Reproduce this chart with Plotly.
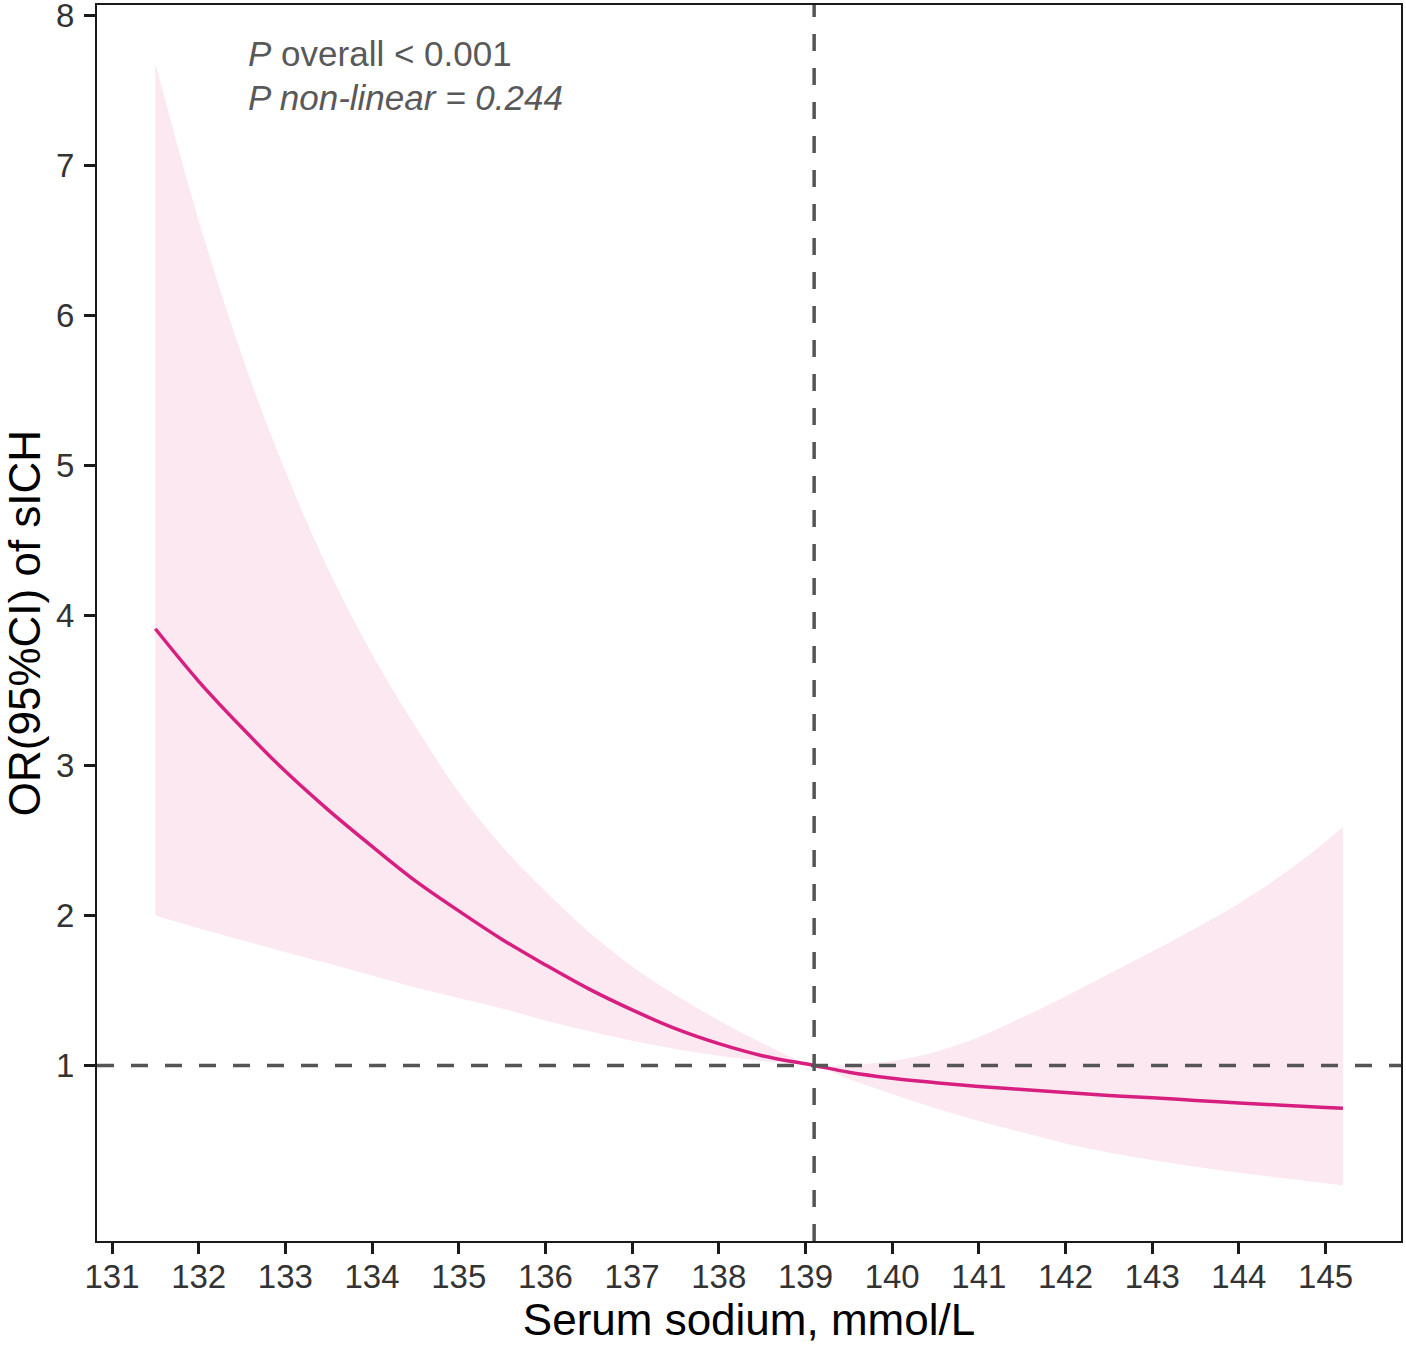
import plotly.graph_objects as go

# Serum sodium (mmol/L)
sodium = [131.5, 132.0, 132.5, 133.0, 133.5, 134.0, 134.5, 135.0, 135.5, 136.0,
          136.5, 137.0, 137.5, 138.0, 138.5, 139.1, 139.5, 140.0, 140.5, 141.0,
          141.5, 142.0, 142.5, 143.0, 143.5, 144.0, 144.5, 145.0, 145.2]
# Odds ratio estimate
odds_ratio = [3.91, 3.56, 3.25, 2.96, 2.70, 2.46, 2.23, 2.03, 1.84, 1.67,
              1.51, 1.37, 1.245, 1.145, 1.065, 1.00, 0.955, 0.915, 0.885, 0.86,
              0.84, 0.82, 0.80, 0.785, 0.767, 0.75, 0.735, 0.72, 0.715]
# 95% CI upper bound
ci_upper = [7.68, 6.63, 5.73, 4.96, 4.30, 3.74, 3.26, 2.82, 2.46, 2.16,
            1.89, 1.66, 1.47, 1.30, 1.15, 1.00, 1.005, 1.03, 1.09, 1.19,
            1.32, 1.46, 1.61, 1.76, 1.915, 2.08, 2.27, 2.49, 2.59]
# 95% CI lower bound
ci_lower = [2.00, 1.915, 1.835, 1.755, 1.68, 1.60, 1.52, 1.45, 1.38, 1.30,
            1.23, 1.165, 1.11, 1.065, 1.03, 1.00, 0.91, 0.81, 0.715, 0.63,
            0.555, 0.48, 0.42, 0.37, 0.325, 0.285, 0.25, 0.215, 0.20]

ref_sodium = 139.1
ref_or = 1
x_ticks = list(range(131, 146))
y_ticks = list(range(1, 9))

FONT = "Liberation Sans, Arial, sans-serif"

fig = go.Figure()
fig.add_trace(go.Scatter(x=sodium, y=ci_upper, mode="lines", line=dict(width=0, shape="spline"),
                         showlegend=False, hoverinfo="skip"))
fig.add_trace(go.Scatter(x=sodium, y=ci_lower, mode="lines", line=dict(width=0, shape="spline"),
                         fill="tonexty", fillcolor="#FBE8F1", showlegend=False, hoverinfo="skip"))
fig.add_trace(go.Scatter(x=sodium, y=odds_ratio, mode="lines",
                         line=dict(color="#D81F80", width=3.5, shape="spline"), showlegend=False))

dash_style = dict(color="#555555", width=3.5, dash="17px,17px")
fig.add_shape(type="line", xref="paper", x0=0, x1=1, yref="y", y0=ref_or, y1=ref_or,
              line=dash_style, layer="above")
fig.add_shape(type="line", xref="x", x0=ref_sodium, x1=ref_sodium, yref="paper", y0=0, y1=1,
              line=dash_style, layer="above")

fig.add_annotation(x=132.55, y=7.747, xref="x", yref="y", xanchor="left", yanchor="middle",
                   text="<i>P</i> overall &lt; 0.001", showarrow=False,
                   font=dict(family=FONT, size=35, color="#595959"))
fig.add_annotation(x=132.55, y=7.453, xref="x", yref="y", xanchor="left", yanchor="middle",
                   text="<i>P non-linear = 0.244</i>", showarrow=False,
                   font=dict(family=FONT, size=35, color="#595959"))

axis_common = dict(showgrid=False, zeroline=False, showline=True, mirror=True,
                   linecolor="#1a1a1a", linewidth=2, ticks="outside", ticklen=11,
                   tickwidth=3, tickcolor="#1a1a1a", ticklabeloverflow="allow",
                   tickfont=dict(family=FONT, size=33, color="#333333"))

fig.update_xaxes(range=[130.827, 145.87], tickvals=x_ticks, ticktext=[str(v) for v in x_ticks],
                 ticklabelstandoff=-6,
                 title=dict(text="Serum sodium, mmol/L", font=dict(family=FONT, size=44, color="#000000"),
                            standoff=9),
                 **axis_common)
fig.update_yaxes(range=[-0.17, 8.067], tickvals=y_ticks, ticktext=[str(v) for v in y_ticks],
                 ticklabelstandoff=3,
                 title=dict(text="OR(95%CI) of sICH", font=dict(family=FONT, size=44, color="#000000"),
                            standoff=16),
                 **axis_common)

fig.update_layout(width=1406, height=1347, plot_bgcolor="white", paper_bgcolor="white",
                  margin=dict(l=97, r=5, t=5, b=106, autoexpand=False))

fig.write_html("out.html", config={"displayModeBar": False},
               post_script="document.body.style.margin='0';document.body.style.overflow='hidden';")
